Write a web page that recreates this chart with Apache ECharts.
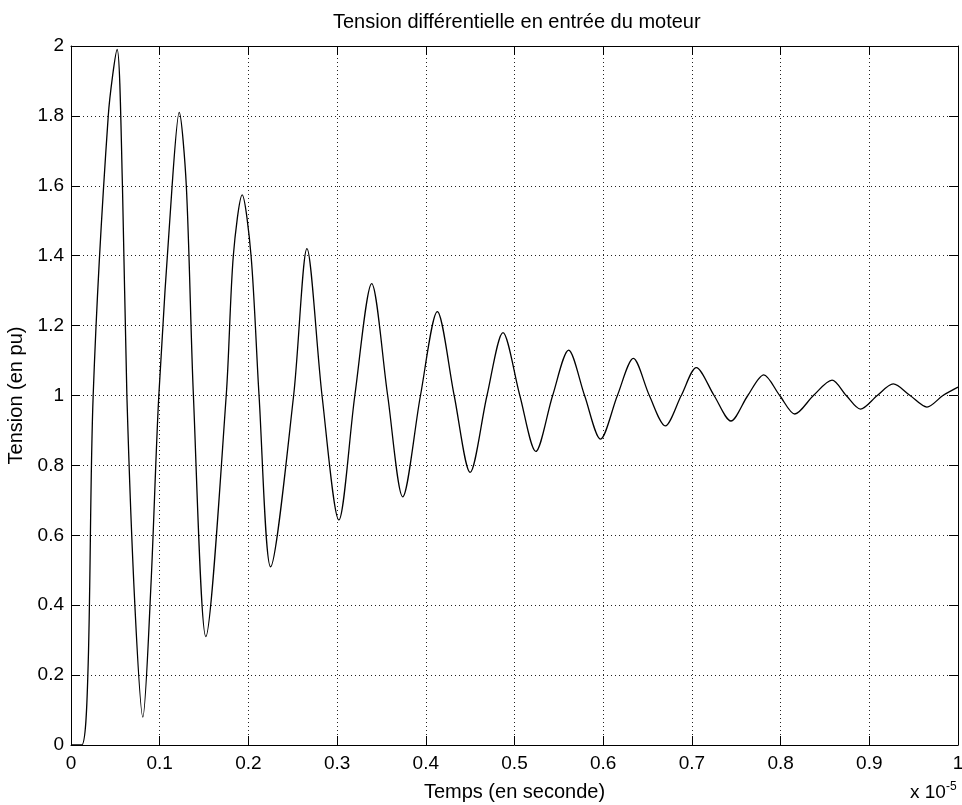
<!DOCTYPE html>
<html>
<head>
<meta charset="utf-8">
<title>Tension différentielle en entrée du moteur</title>
<script src="https://cdn.jsdelivr.net/npm/echarts@6.0.0/dist/echarts.min.js"></script>
<style>
  html, body { margin: 0; padding: 0; background: #fff; }
  #chart { width: 962px; height: 805px; }
</style>
</head>
<body>
<div id="chart"></div>
<script>
// temps (x 1e-5 s) et tension (pu) : pics, creux et passages à 1
const timeValues = [
  0, 0.012, 0.019, 0.025, 0.042, 0.052, 0.058, 0.063, 0.072, 0.081,
  0.090, 0.099, 0.114, 0.122, 0.130, 0.138, 0.152,
  0.175, 0.183, 0.193, 0.203, 0.212, 0.225,
  0.251, 0.266, 0.283, 0.302,
  0.320, 0.339, 0.357, 0.374,
  0.394, 0.413, 0.432, 0.450,
  0.469, 0.487, 0.506, 0.524,
  0.543, 0.561, 0.579, 0.597,
  0.616, 0.634, 0.652, 0.670,
  0.688, 0.705, 0.725, 0.744,
  0.763, 0.781, 0.799, 0.816,
  0.837, 0.858, 0.874, 0.890,
  0.909, 0.927, 0.946, 0.965,
  0.983, 1.0
]
const tensionValues = [
  0, 0, 0.2, 1.0, 1.8, 1.99, 1.6, 1.0, 0.4, 0.08,
  0.45, 1.0, 1.6, 1.81, 1.6, 1.0, 0.31,
  1.0, 1.4, 1.574, 1.4, 1.0, 0.51,
  1.0, 1.42, 1.0, 0.644,
  1.0, 1.32, 1.0, 0.71,
  1.0, 1.24, 1.0, 0.78,
  1.0, 1.18, 1.0, 0.84,
  1.0, 1.13, 1.0, 0.875,
  1.0, 1.106, 1.0, 0.913,
  1.0, 1.08, 1.0, 0.927,
  1.0, 1.059, 1.0, 0.947,
  1.0, 1.044, 1.0, 0.961,
  1.0, 1.033, 1.0, 0.967,
  1.0, 1.024
]

const FONT = "'Liberation Sans', Arial, sans-serif"

const chart = echarts.init(document.getElementById('chart'))

const seriesData = timeValues.map((t, i) => [t, tensionValues[i]])

const gridLine = { show: true, lineStyle: { color: '#222', type: [1, 3], width: 1 } }
const boxLine = { show: true, onZero: false, lineStyle: { color: '#000', width: 1 } }
const innerTick = { show: true, inside: true, length: 9, lineStyle: { color: '#000', width: 1 } }

chart.setOption({
  backgroundColor: '#fff',
  animation: false,
  title: {
    text: 'Tension différentielle en entrée du moteur',
    left: 333,
    top: 12,
    padding: 0,
    textStyle: { fontFamily: FONT, fontSize: 20, fontWeight: 'normal', color: '#000' }
  },
  grid: { left: 71, right: 4, top: 46, bottom: 60, outerBoundsMode: 'none', containLabel: false },
  xAxis: [
    {
      type: 'value',
      min: 0,
      max: 1,
      interval: 0.1,
      name: 'Temps (en seconde)',
      nameLocation: 'middle',
      nameGap: 37,
      nameTextStyle: { fontFamily: FONT, fontSize: 20, color: '#000' },
      axisLine: boxLine,
      axisTick: innerTick,
      splitLine: gridLine,
      axisLabel: { fontFamily: FONT, fontSize: 19, color: '#000', margin: 9 }
    },
    {
      type: 'value',
      position: 'top',
      min: 0,
      max: 1,
      interval: 0.1,
      axisLine: boxLine,
      axisTick: innerTick,
      splitLine: { show: false },
      axisLabel: { show: false }
    }
  ],
  yAxis: [
    {
      type: 'value',
      min: 0,
      max: 2,
      interval: 0.2,
      name: 'Tension (en pu)',
      nameLocation: 'middle',
      nameGap: 39,
      nameTextStyle: { fontFamily: FONT, fontSize: 20, color: '#000' },
      axisLine: boxLine,
      axisTick: innerTick,
      splitLine: gridLine,
      axisLabel: { fontFamily: FONT, fontSize: 19, color: '#000', margin: 7 }
    },
    {
      type: 'value',
      position: 'right',
      min: 0,
      max: 2,
      interval: 0.2,
      axisLine: boxLine,
      axisTick: innerTick,
      splitLine: { show: false },
      axisLabel: { show: false }
    }
  ],
  graphic: [
    {
      type: 'text',
      left: 910,
      top: 781,
      style: {
        text: 'x 10{sup|-5}',
        fontFamily: FONT,
        fontSize: 19,
        fill: '#000',
        rich: {
          sup: { fontFamily: FONT, fontSize: 12, verticalAlign: 'top', padding: [0, 0, 12, 0] }
        }
      }
    }
  ],
  series: [
    {
      type: 'line',
      xAxisIndex: 0,
      yAxisIndex: 0,
      data: seriesData,
      showSymbol: false,
      smooth: 0.3,
      lineStyle: { color: '#000', width: 1.3 },
      itemStyle: { color: '#000' }
    }
  ]
})
</script>
</body>
</html>
